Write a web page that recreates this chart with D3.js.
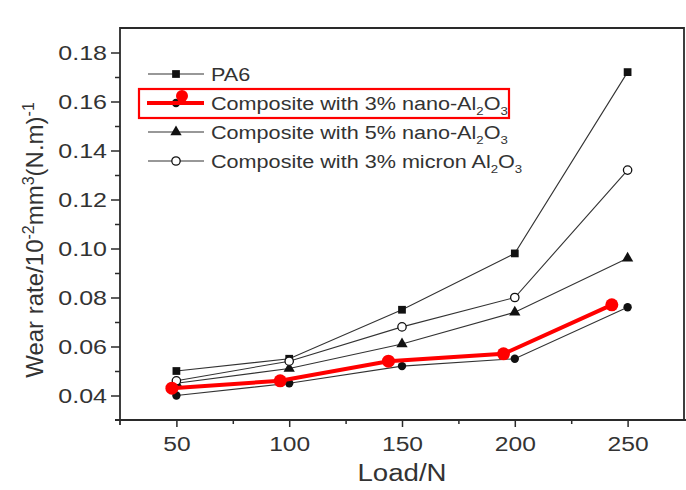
<!DOCTYPE html>
<html>
<head>
<meta charset="utf-8">
<script src="https://cdn.jsdelivr.net/npm/d3@7"></script>
<style>
  body { margin: 0; background: #fff; }
  svg { display: block; font-family: "Liberation Sans", Arial, sans-serif; }
</style>
</head>
<body>
<svg id="chart" width="686" height="490"></svg>
<script>
// data
const loads = [50, 100, 150, 200, 250]
const pa6 = [0.050, 0.055, 0.075, 0.098, 0.172]
const nano3 = [0.040, 0.045, 0.052, 0.055, 0.076]
const nano5 = [0.045, 0.051, 0.061, 0.074, 0.096]
const micron3 = [0.046, 0.054, 0.068, 0.080, 0.132]
// red highlight overlay (drawn slightly shifted in the picture)
const redLoads = [48, 96, 144, 195, 243]
const redValues = [0.043, 0.046, 0.054, 0.057, 0.077]

const xTicks = [50, 100, 150, 200, 250]
const yTicks = [0.04, 0.06, 0.08, 0.10, 0.12, 0.14, 0.16, 0.18]

const svg = d3.select("#chart")
const ink = "#2a2a2a"

const x = d3.scaleLinear().domain([25, 275]).range([120, 684])
const y = d3.scaleLinear().domain([0.03, 0.19]).range([420, 28])

// stretch text a bit horizontally like the scanned figure
const stretch = (sel, k) => sel.each(function () {
  const len = this.getComputedTextLength()
  d3.select(this).attr("textLength", len * k).attr("lengthAdjust", "spacingAndGlyphs")
})

// minor ticks
const gMinor = svg.append("g")
gMinor.append("g")
  .attr("transform", "translate(0,420)")
  .call(d3.axisBottom(x).tickValues([75, 125, 175, 225]).tickSize(4).tickFormat(""))
gMinor.append("g")
  .attr("transform", "translate(120,0)")
  .call(d3.axisLeft(y).tickValues([0.05, 0.07, 0.09, 0.11, 0.13, 0.15, 0.17]).tickSize(5).tickFormat(""))
gMinor.selectAll(".domain").remove()
gMinor.selectAll("line").attr("stroke", ink).attr("stroke-width", 1.5)

// major axes
const xAxis = svg.append("g")
  .attr("transform", "translate(0,420)")
  .call(d3.axisBottom(x).tickValues(xTicks).tickSize(7).tickPadding(9).tickFormat(d3.format("d")))
const yAxis = svg.append("g")
  .attr("transform", "translate(120,0)")
  .call(d3.axisLeft(y).tickValues(yTicks).tickSize(9).tickPadding(4).tickFormat(d3.format(".2f")))

for (const a of [xAxis, yAxis]) {
  a.selectAll(".domain").remove()
  a.selectAll("line").attr("stroke", ink).attr("stroke-width", 1.5)
  a.selectAll("text").attr("fill", "#333").attr("font-size", 20.5)
    .attr("font-family", "Liberation Sans, Arial, sans-serif")
}
xAxis.selectAll("text").attr("dy", "0.71em")
stretch(xAxis.selectAll("text"), 1.2)
stretch(yAxis.selectAll("text"), 1.22)

// frame
svg.append("path")
  .attr("d", "M115,420H686M120,425V28H684V420")
  .attr("fill", "none").attr("stroke", ink).attr("stroke-width", 1.8)

// axis titles
const xt = svg.append("text")
  .attr("x", 402).attr("y", 481).attr("text-anchor", "middle")
  .attr("font-size", 23).attr("fill", "#333").text("Load/N")
stretch(xt, 1.2)

const yt = svg.append("text")
  .attr("transform", "translate(43,240) rotate(-90)")
  .attr("text-anchor", "middle").attr("font-size", 24).attr("fill", "#333")
yt.append("tspan").text("Wear rate/10")
yt.append("tspan").attr("dy", -9).attr("font-size", 16).text("-2")
yt.append("tspan").attr("dy", 9).text("mm")
yt.append("tspan").attr("dy", -9).attr("font-size", 16).text("3")
yt.append("tspan").attr("dy", 9).text("(N.m)")
yt.append("tspan").attr("dy", -9).attr("font-size", 16).text("-1")

// series
const series = [
  { name: "PA6", values: pa6, shape: "square" },
  { name: "nano3", values: nano3, shape: "circle" },
  { name: "nano5", values: nano5, shape: "triangle" },
  { name: "micron3", values: micron3, shape: "open" }
]

const symbolOf = {
  square: d3.symbol(d3.symbolSquare, 60),
  circle: d3.symbol(d3.symbolCircle, 55),
  triangle: d3.symbol(d3.symbolTriangle, 55),
  open: d3.symbol(d3.symbolCircle, 55)
}

const line = d3.line().x(d => x(d[0])).y(d => y(d[1]))

series.forEach(s => {
  const pts = loads.map((l, i) => [l, s.values[i]])
  svg.append("path").datum(pts)
    .attr("d", line).attr("fill", "none").attr("stroke", "#333").attr("stroke-width", 1.1)
  svg.selectAll(null).data(pts).enter().append("path")
    .attr("transform", d => `translate(${x(d[0])},${y(d[1])})`)
    .attr("d", symbolOf[s.shape]())
    .attr("fill", s.shape === "open" ? "#fff" : "#111")
    .attr("stroke", "#111").attr("stroke-width", s.shape === "open" ? 1.3 : 0)
})

// red overlay
const redPts = redLoads.map((l, i) => [l, redValues[i]])
svg.append("path").datum(redPts)
  .attr("d", line).attr("fill", "none").attr("stroke", "#ff0000").attr("stroke-width", 4)
svg.selectAll(null).data(redPts).enter().append("circle")
  .attr("cx", d => x(d[0])).attr("cy", d => y(d[1])).attr("r", 6.5).attr("fill", "#ff0000")

// legend
const legendRows = [
  { shape: "square", label: ["PA6"] },
  { shape: "circle", label: ["Composite with 3% nano-Al", "2", "O", "3"] },
  { shape: "triangle", label: ["Composite with 5% nano-Al", "2", "O", "3"] },
  { shape: "open", label: ["Composite with 3% micron Al", "2", "O", "3"] }
]
const leg = svg.append("g")
legendRows.forEach((r, i) => {
  const ly = 74 + i * 29
  leg.append("line").attr("x1", 148).attr("x2", 204).attr("y1", ly).attr("y2", ly)
    .attr("stroke", "#333").attr("stroke-width", 1.1)
  leg.append("path").attr("transform", `translate(176,${ly})`)
    .attr("d", symbolOf[r.shape]())
    .attr("fill", r.shape === "open" ? "#fff" : "#111")
    .attr("stroke", "#111").attr("stroke-width", r.shape === "open" ? 1.3 : 0)
  const t = leg.append("text").attr("x", 211).attr("y", ly + 7)
    .attr("font-size", 18).attr("fill", "#333")
  r.label.forEach((part, j) => {
    const sub = j % 2 === 1
    const ts = t.append("tspan").text(part)
    if (sub) ts.attr("font-size", 11).attr("dy", 5)
    else if (j > 0) ts.attr("dy", -5)
  })
  stretch(t, 1.2)
})

// red highlight box in legend
leg.append("rect").attr("x", 139).attr("y", 89).attr("width", 370).attr("height", 29)
  .attr("fill", "none").attr("stroke", "#ff0000").attr("stroke-width", 2.2)
leg.append("line").attr("x1", 147).attr("x2", 204).attr("y1", 103).attr("y2", 103)
  .attr("stroke", "#ff0000").attr("stroke-width", 4)
leg.append("circle").attr("cx", 182).attr("cy", 96).attr("r", 6).attr("fill", "#ff0000")
</script>
</body>
</html>
